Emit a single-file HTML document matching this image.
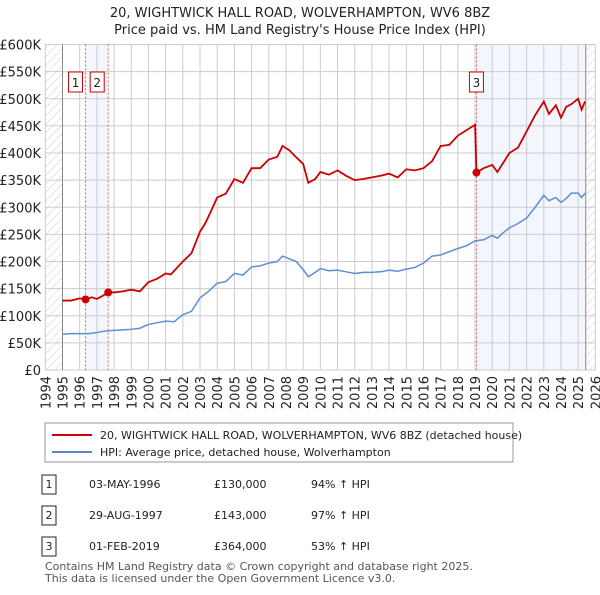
<!DOCTYPE html>
<html><head><meta charset="utf-8"><style>
body{margin:0;background:#fff;font-family:"Liberation Sans","DejaVu Sans",sans-serif;}
svg text{font-family:"DejaVu Sans","Liberation Sans",sans-serif;}
</style></head><body>
<svg id="c" width="600" height="590" xmlns="http://www.w3.org/2000/svg">
<defs><pattern id="hatch" width="6" height="6" patternUnits="userSpaceOnUse" patternTransform="rotate(45)"><line x1="0" y1="0" x2="0" y2="6" stroke="#ccc" stroke-width="1"/></pattern></defs>
<text x="300" y="17" text-anchor="middle" font-size="13" fill="#222">20, WIGHTWICK HALL ROAD, WOLVERHAMPTON, WV6 8BZ</text>
<text x="300" y="34" text-anchor="middle" font-size="13" fill="#222">Price paid vs. HM Land Registry's House Price Index (HPI)</text>
<g id="plot"></g>
<g>
<rect x="45" y="423" width="468" height="39" fill="#fff" stroke="#999"/>
<line x1="52" y1="435" x2="92" y2="435" stroke="#cc0000" stroke-width="2"/>
<text x="100" y="439" font-size="11" fill="#222">20, WIGHTWICK HALL ROAD, WOLVERHAMPTON, WV6 8BZ (detached house)</text>
<line x1="52" y1="452" x2="92" y2="452" stroke="#5588cc" stroke-width="2"/>
<text x="100" y="456" font-size="11" fill="#222">HPI: Average price, detached house, Wolverhampton</text>
</g>
<g id="table" font-size="11" fill="#222"></g>
<text x="45" y="570" font-size="11" fill="#555">Contains HM Land Registry data © Crown copyright and database right 2025.</text>
<text x="45" y="582" font-size="11" fill="#555">This data is licensed under the Open Government Licence v3.0.</text>
</svg>
<script>
const yTicks=[0,50,100,150,200,250,300,350,400,450,500,550,600];
const yLabels=["£0","£50K","£100K","£150K","£200K","£250K","£300K","£350K","£400K","£450K","£500K","£550K","£600K"];
const xYears=[1994,1995,1996,1997,1998,1999,2000,2001,2002,2003,2004,2005,2006,2007,2008,2009,2010,2011,2012,2013,2014,2015,2016,2017,2018,2019,2020,2021,2022,2023,2024,2025,2026];
const saleDates=[1996.34,1997.66,2019.08];
const salePrices=[130,143,364];
const saleLabels=["1","2","3"];
const saleDateText=["03-MAY-1996","29-AUG-1997","01-FEB-2019"];
const salePriceText=["£130,000","£143,000","£364,000"];
const saleHpiText=["94% ↑ HPI","97% ↑ HPI","53% ↑ HPI"];
const hpiDates=[1995,1995.5,1996,1996.5,1997,1997.5,1998,1998.5,1999,1999.5,2000,2000.5,2001,2001.5,2002,2002.5,2003,2003.5,2004,2004.5,2005,2005.5,2006,2006.5,2007,2007.5,2007.8,2008.2,2008.6,2009.0,2009.3,2009.7,2010,2010.5,2011,2011.5,2012,2012.5,2013,2013.5,2014,2014.5,2015,2015.5,2016,2016.5,2017,2017.5,2018,2018.5,2019,2019.5,2020,2020.3,2020.6,2021,2021.5,2022,2022.5,2023,2023.3,2023.7,2024,2024.3,2024.6,2025,2025.2,2025.4];
const hpiValues=[66,67,67,67,69,72,73,74,75,77,84,87,90,89,102,108,133,145,160,163,178,175,190,192,197,200,210,205,200,185,172,180,187,183,184,181,178,180,180,181,184,182,186,189,197,210,212,218,224,229,238,240,248,243,252,262,270,280,300,322,312,318,309,316,326,326,318,326];
const priceDates=[1995,1995.5,1996,1996.34,1996.7,1997,1997.3,1997.66,1998,1998.5,1999,1999.5,2000,2000.5,2001,2001.3,2002,2002.5,2003,2003.3,2003.6,2004,2004.5,2005,2005.5,2006,2006.5,2007,2007.5,2007.8,2008.2,2008.6,2009.0,2009.3,2009.7,2010,2010.5,2011,2011.5,2012,2012.5,2013,2013.5,2014,2014.5,2015,2015.5,2016,2016.5,2017,2017.5,2018,2018.5,2019.0,2019.08,2019.5,2020,2020.3,2021,2021.5,2022,2022.5,2023,2023.3,2023.7,2024,2024.3,2024.6,2025,2025.2,2025.4];
const priceValues=[128,128,132,130,134,131,136,143,143,145,148,145,162,168,178,176,200,215,255,270,290,318,325,352,345,372,372,388,393,413,405,392,380,345,352,365,360,368,358,350,352,355,358,362,355,370,368,372,385,413,415,432,442,452,364,372,378,365,400,410,440,470,495,472,488,465,485,490,500,480,495];
const X0=45.3,PX=17.19,Y0=370,PY=325.5/600;
const xs=d=>X0+(d-1994)*PX, ys=v=>Y0-v*PY;
const NS="http://www.w3.org/2000/svg";
const plot=document.getElementById('plot');
function mk(tag,attrs,parent){const e=document.createElementNS(NS,tag);for(const k in attrs)e.setAttribute(k,attrs[k]);(parent||plot).appendChild(e);return e;}
const L=X0,R=xs(2026),T=ys(600);
let e;
e=mk('rect',{x:L,y:T,width:R-L,height:Y0-T,fill:'#fff'});


e=mk('rect',{x:xs(saleDates[0]),y:T,width:xs(saleDates[1])-xs(saleDates[0]),height:Y0-T,fill:'#f3f6fd'});


e=mk('rect',{x:xs(saleDates[2]),y:T,width:xs(2025.44)-xs(saleDates[2]),height:Y0-T,fill:'#f3f6fd'});


e=mk('rect',{x:L,y:T,width:xs(1995)-L,height:Y0-T,fill:'url(#hatch)'});


e=mk('rect',{x:xs(2025.44),y:T,width:R-xs(2025.44),height:Y0-T,fill:'url(#hatch)'});


yTicks.forEach((v,i)=>{
 e=mk('line',{x1:L,x2:R,y1:ys(v),y2:ys(v),stroke:'#ccc','stroke-width':1});
 
 
 e=mk('text',{x:41,y:ys(v)+5,'text-anchor':'end','font-size':13,fill:'#222'});
 e.textContent=yLabels[i];
 
 
});
xYears.forEach(y=>{
 e=mk('line',{x1:xs(y),x2:xs(y),y1:T,y2:Y0,stroke:'#ccc','stroke-width':1});
 
 
 e=mk('text',{x:0,y:0,'text-anchor':'end','font-size':13,fill:'#222',transform:`translate(${xs(y)+5},376) rotate(-90)`});
 e.textContent=y;
 
 
});
e=mk('line',{x1:xs(1995),x2:xs(1995),y1:T,y2:Y0,stroke:'#888'});


e=mk('line',{x1:xs(2025.44),x2:xs(2025.44),y1:T,y2:Y0,stroke:'#888'});


saleDates.forEach((d,i)=>{
 e=mk('line',{x1:xs(d),x2:xs(d),y1:T,y2:Y0,stroke:'#e06060','stroke-dasharray':'2,2'});
 
 
});
e=mk('polyline',{points:hpiDates.map((d,i)=>xs(d)+','+ys(hpiValues[i])).join(' '),fill:'none',stroke:'#5b8fd4','stroke-width':1.5});


e=mk('polyline',{points:priceDates.map((d,i)=>xs(d)+','+ys(priceValues[i])).join(' '),fill:'none',stroke:'#cc0000','stroke-width':1.8});


saleDates.forEach((d,i)=>{
 e=mk('circle',{cx:xs(d),cy:ys(salePrices[i]),r:4,fill:'#cc0000'});
 
 
 const bx=xs(d)-(i<2?17:7)+(i==1?-1:0);
 const g=mk('g',{});
 
 
 mk('rect',{x:bx,y:72,width:14,height:20,fill:'#fff',stroke:'#cc0000'},g);
 const t=mk('text',{x:bx+7,y:87,'text-anchor':'middle','font-size':12,fill:'#222'},g);t.textContent=saleLabels[i];
});
const tb=document.getElementById('table');
saleDates.forEach((d,i)=>{
 const y=[484,515,546][i];
 const g=mk('g',{},tb);
 
 
 mk('rect',{x:42,y:y-9,width:14,height:19,fill:'#fff',stroke:'#222'},g);
 let t=mk('text',{x:49,y:y+4,'text-anchor':'middle'},g);t.textContent=saleLabels[i];
 t=mk('text',{x:89,y:y+4},g);t.textContent=saleDateText[i];
 t=mk('text',{x:214,y:y+4},g);t.textContent=salePriceText[i];
 t=mk('text',{x:311,y:y+4},g);t.textContent=saleHpiText[i];
});
</script>
</body></html>
